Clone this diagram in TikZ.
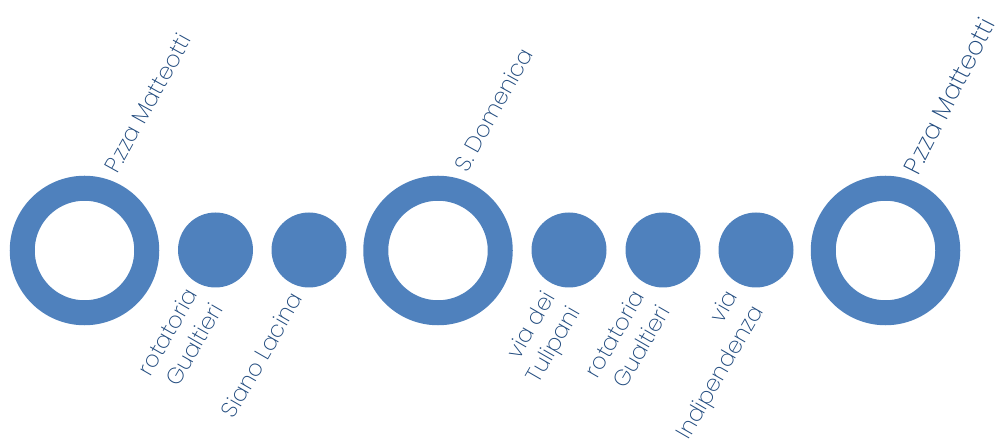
\documentclass[tikz,border=0pt]{standalone}
\usepackage{fontspec}
\setmainfont{Poppins}[UprightFont={* ExtraLight}]
\definecolor{dotblue}{HTML}{4F81BD}
\definecolor{txtblue}{HTML}{1F497D}
\begin{document}
\begin{tikzpicture}[x=1pt,y=-1pt,
  ring/.style={circle,draw=dotblue,line width=25pt,minimum size=124.5pt,inner sep=0pt,outer sep=0pt},
  dot/.style={circle,fill=dotblue,minimum size=75pt,inner sep=0pt,outer sep=0pt},
  toplabel/.style={rotate=61,anchor=base west,inner sep=0pt,text=txtblue,font=\fontsize{22.5}{29}\selectfont},
  botlabel/.style={rotate=60,anchor=north east,inner sep=0pt,align=right,text=txtblue,font=\fontsize{22.5}{29}\selectfont}]
\useasboundingbox (0,0) rectangle (998,443);
\node[ring] (r1) at (84.5,250.5) {};
\node[dot] (d1) at (215.5,250) {};
\node[dot] (d2) at (309,250) {};
\node[ring] (r2) at (438,250.5) {};
\node[dot] (d3) at (569,250) {};
\node[dot] (d4) at (663,250) {};
\node[dot] (d5) at (756,250) {};
\node[ring] (r3) at (885.5,250.5) {};
\node[toplabel] (t1) at (117,175) {P.zza Matteotti};
\node[toplabel] (t2) at (467,174) {S. Domenica};
\node[toplabel,rotate=2,font=\fontsize{25}{29}\selectfont] (t3) at (918,177) {P.zza Matteotti};
\node[botlabel] (b1) at (184,286) {rotatoria\\Gualtieri};
\node[botlabel] (b2) at (289,290) {Siano Lacina};
\node[botlabel] (b3) at (541,289) {via dei\\Tulipani};
\node[botlabel] (b4) at (631,288) {rotatoria\\Gualtieri};
\node[botlabel] (b5) at (724,288) {via\\Indipendenza};
\end{tikzpicture}
\end{document}
